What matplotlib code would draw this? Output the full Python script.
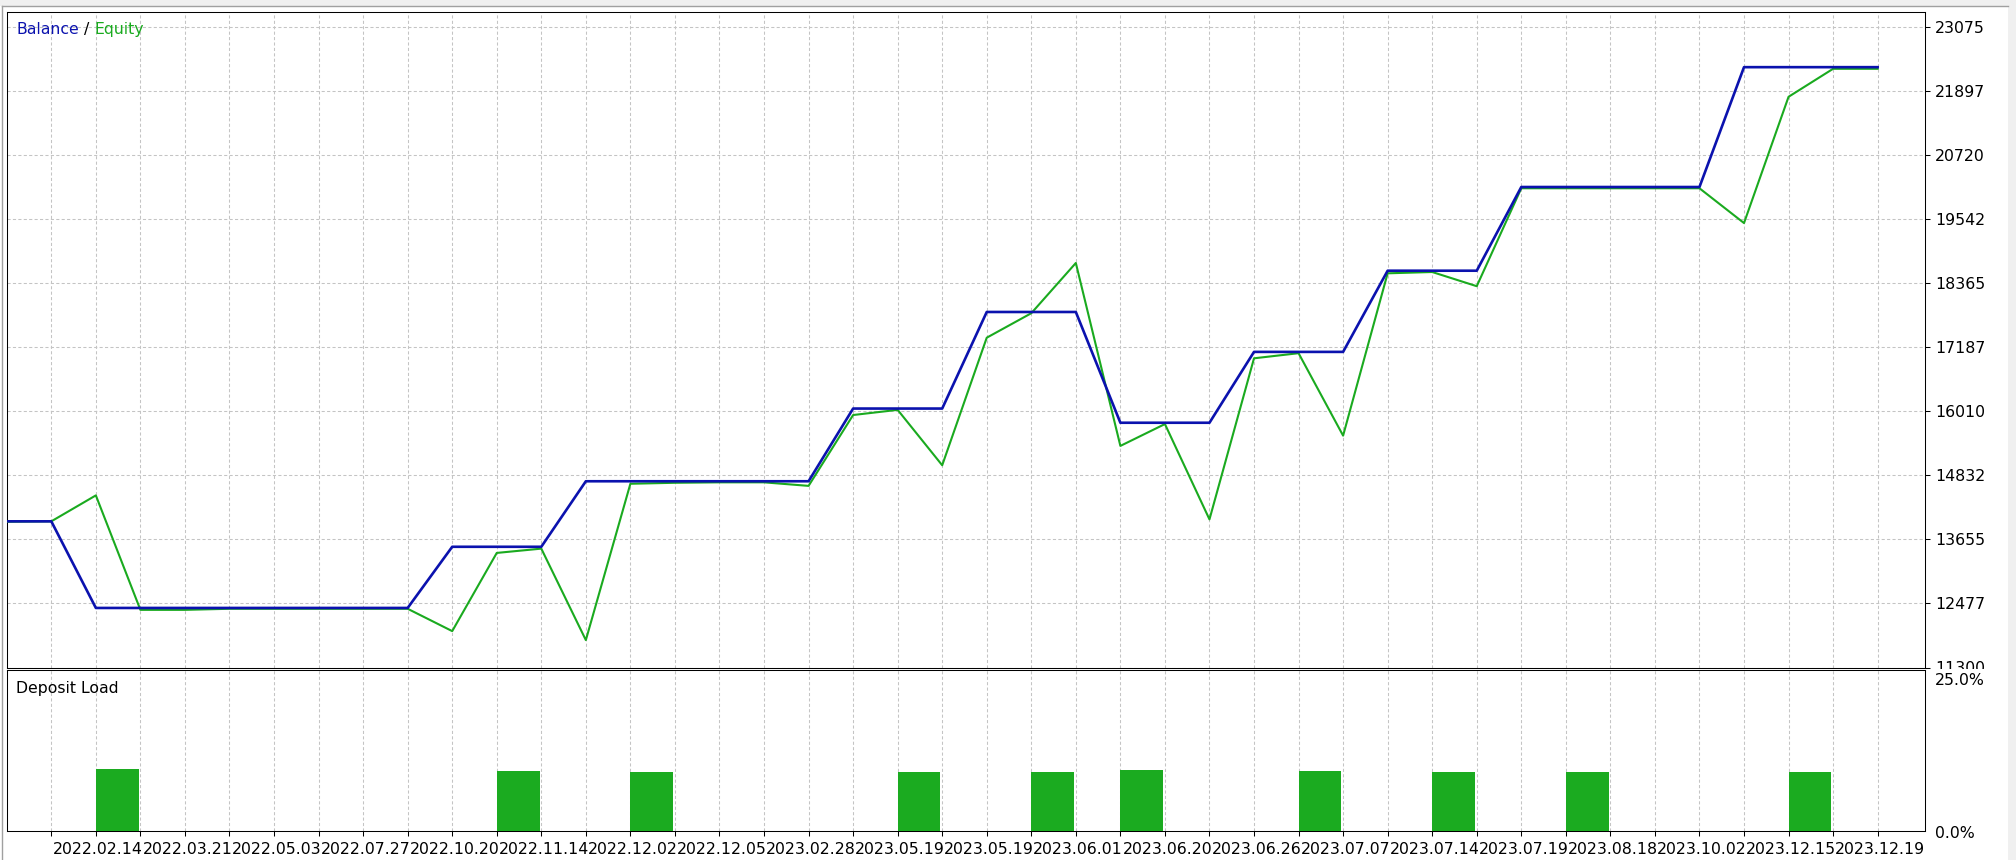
"""
plot.py
Strategy tester style chart: Balance / Equity curve with a Deposit Load panel.
Output: out.png
"""

import matplotlib
matplotlib.use("Agg")
import matplotlib.pyplot as plt
from matplotlib.transforms import blended_transform_factory, Bbox
from matplotlib.patches import Rectangle
from matplotlib.lines import Line2D

# ── Data ──────────────────────────────────────────────────────────────────
# one point per deal, index -1 is the starting deposit
deal_idx = list(range(-1, 42))

balance = [13988, 13988,
           12395, 12395, 12395, 12395, 12395, 12395, 12395, 12395,
           13520, 13520, 13520,
           14725, 14725, 14725, 14725, 14725, 14725,
           16062, 16062, 16062,
           17838, 17838, 17838,
           15801, 15801, 15801,
           17104, 17104, 17104,
           18597, 18597, 18597,
           20136, 20136, 20136, 20136, 20136,
           22340, 22340, 22340, 22340]

equity = [13980, 13988,
          14465, 12360, 12360, 12380, 12380, 12380, 12380, 12380,
          11969, 13407, 13486,
          11804, 14679, 14697, 14705, 14705, 14640,
          15943, 16038, 15019,
          17365, 17815, 18739,
          15375, 15777, 14024,
          16986, 17080, 15564,
          18549, 18573, 18312,
          20113, 20113, 20113, 20113, 20113,
          19473, 21795, 22310, 22310]

load_idx = [1, 10, 13, 19, 22, 24, 28, 31, 34, 39]
load_pct = [10.1, 9.75, 9.6, 9.6, 9.6, 9.9, 9.75, 9.6, 9.6, 9.6]

y_ticks = [11300, 12477, 13655, 14832, 16010, 17187, 18365, 19542, 20720, 21897, 23075]

date_labels = ["2022.02.14", "2022.03.21", "2022.05.03", "2022.07.27", "2022.10.20",
               "2022.11.14", "2022.12.02", "2022.12.05", "2023.02.28", "2023.05.19",
               "2023.05.19", "2023.06.01", "2023.06.20", "2023.06.26", "2023.07.07",
               "2023.07.14", "2023.07.19", "2023.08.18", "2023.10.02", "2023.12.15",
               "2023.12.19"]
date_pos = list(range(0, 42, 2))

# ── Style ─────────────────────────────────────────────────────────────────
W, H = 2016, 860
BLUE  = "#0b12ae"
GREEN = "#1aaa1f"
BAR   = "#1bab20"
GRID  = "#c4c4c4"
FRAME = "#f0f0f0"
FS    = 11.3
DASH  = (0, (3.0, 2.2))

plt.rcParams["font.family"] = ["DejaVu Sans"]


def px_rect(left, top, right, bottom):
    return [left / W, 1 - bottom / H, (right - left) / W, (bottom - top) / H]


def style_axes(ax):
    for s in ax.spines.values():
        s.set_color("black")
        s.set_linewidth(0.75)
    ax.set_xticks(range(42))
    ax.grid(axis="x", color=GRID, lw=0.75, ls=DASH)
    ax.set_axisbelow(True)


fig = plt.figure(figsize=(W / 100, H / 100), dpi=100, facecolor="white")

# window frame
fig.patches.append(Rectangle((0, 1 - 6 / H), 1, 6 / H, transform=fig.transFigure,
                             facecolor=FRAME, edgecolor="none", zorder=0))
fig.patches.append(Rectangle((2008 / W, 0), 8 / W, 1, transform=fig.transFigure,
                             facecolor=FRAME, edgecolor="none", zorder=0))
fig.lines.append(Line2D([2 / W, 2008 / W], [1 - 6 / H, 1 - 6 / H], transform=fig.transFigure,
                        color="#a0a0a0", lw=1))
fig.lines.append(Line2D([2 / W, 2 / W], [0, 1 - 6 / H], transform=fig.transFigure,
                        color="#a0a0a0", lw=1))

XL = (-0.988, 42.07)

# ── Balance / Equity panel ────────────────────────────────────────────────
ax = fig.add_axes(px_rect(7.3, 11.7, 1925.3, 667.5))
style_axes(ax)
ax.plot(deal_idx, equity, color=GREEN, lw=1.5, zorder=3)
ax.plot(deal_idx, balance, color=BLUE, lw=1.9, zorder=4)
ax.set_xlim(*XL)
ax.set_ylim(11300, 23360)
ax.set_yticks(y_ticks)
ax.set_yticklabels([str(v) for v in y_ticks])
ax.grid(axis="y", color=GRID, lw=0.75, ls=DASH)
ax.yaxis.tick_right()
ax.tick_params(axis="y", direction="out", length=3.6, width=0.75, pad=3.5,
               labelsize=FS, colors="black")
ax.tick_params(axis="x", length=0, labelbottom=False)

# title made of three coloured pieces
fig.canvas.draw()
rend = fig.canvas.get_renderer()
x0 = 16
for txt, col in [("Balance", BLUE), (" / ", "black"), ("Equity", GREEN)]:
    t = fig.text(x0 / W, 1 - 34.3 / H, txt, color=col, fontsize=FS, va="baseline")
    x0 += t.get_window_extent(rend).width

# the lowest price label is cut off by the lower panel, like the terminal does
cut = Bbox.from_extents(1926, H - 669, 2008, H)
lowest = ax.get_yticklabels()[0]
lowest.set_clip_box(cut)
lowest.set_clip_on(True)

# ── Deposit Load panel ────────────────────────────────────────────────────
ax2 = fig.add_axes(px_rect(7.3, 670, 1925.3, 831))
style_axes(ax2)
ax2.bar(load_idx, load_pct, width=0.96, align="edge", color=BAR, zorder=3)
ax2.set_xlim(*XL)
ax2.set_ylim(0, 26.3)
ax2.set_yticks([])
ax2.tick_params(axis="x", direction="out", length=3.6, width=0.75, labelbottom=False)
fig.text(16 / W, 1 - 693 / H, "Deposit Load", fontsize=FS, va="baseline")

fig.text(1935 / W, 1 - 679 / H, "25.0%", fontsize=FS, va="center_baseline", zorder=6)
fig.text(1935 / W, 1 - 832 / H, "0.0%", fontsize=FS, va="center_baseline", zorder=6)

# date labels: each one covers the tail of the previous one
tr = blended_transform_factory(ax2.transData, fig.transFigure)
for k, (pos, lab) in enumerate(zip(date_pos, date_labels)):
    fig.text(pos + 0.045, 1 - 854 / H, lab, transform=tr, fontsize=FS, va="baseline",
             bbox=dict(facecolor="white", edgecolor="none", pad=0), zorder=2 + k * 0.01)

fig.savefig("out.png", dpi=100, facecolor="white")
